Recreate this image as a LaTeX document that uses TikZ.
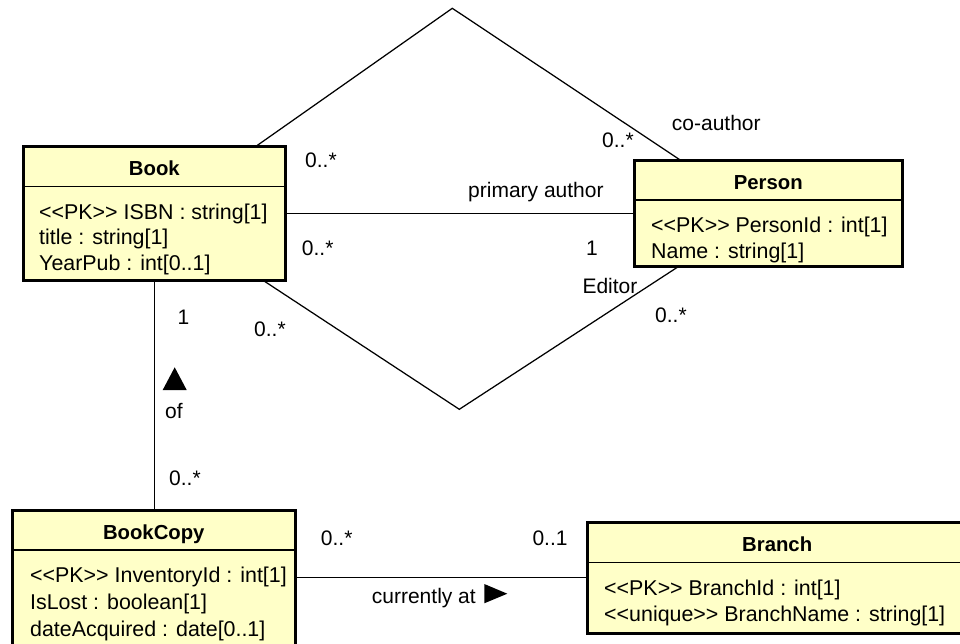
\documentclass[tikz,border=0pt]{standalone}
\usepackage{fontspec}
\setmainfont{Liberation Sans}[Ligatures=TeXOff]
\definecolor{classfill}{RGB}{255,255,200}

\begin{document}
\begin{tikzpicture}[x=1pt,y=-1pt,
    font=\fontsize{21}{25.5}\selectfont,
    class/.style={draw=black,line width=3pt,fill=classfill,inner sep=0pt,outer sep=0pt},
    sep/.style={draw=black,line width=1.2pt},
    cname/.style={font=\fontsize{20.3}{24}\selectfont\bfseries,anchor=base,inner sep=0pt},
    attr/.style={font=\fontsize{21.4}{25.5}\selectfont,anchor=base west,inner sep=0pt},
    lbl/.style={anchor=base west,inner sep=0pt},
    assoc/.style={draw=black,line width=1.25pt}]
\useasboundingbox (0,0) rectangle (960,644);

% classes
\node[class,minimum width=261.3pt,minimum height=133.5pt] (book) at (154.35,213.75) {};
\node[class,minimum width=267.5pt,minimum height=105pt] (person) at (768.25,213.5) {};
\node[class,minimum width=283.5pt,minimum height=136.5pt] (bookcopy) at (153.75,578.75) {};
\node[class,minimum width=380.4pt,minimum height=111pt] (branch) at (777.2,577.5) {};

\draw[sep] (book.west |- 0,186.7) -- (book.east |- 0,186.7);
\draw[sep] (person.west |- 0,200) -- (person.east |- 0,200);
\draw[sep] (bookcopy.west |- 0,550) -- (bookcopy.east |- 0,550);
\draw[sep] (branch.west |- 0,562.7) -- (branch.east |- 0,562.7);

\node[cname] (book-name) at (154.35,176) {Book};
\node[cname] (person-name) at (768.25,189.3) {Person};
\node[cname] (bookcopy-name) at (153.75,539.3) {BookCopy};
\node[cname] (branch-name) at (777.2,551.7) {Branch};

\foreach \txt [count=\i] in {{<<PK>> ISBN : string[1]},{title : string[1]},{YearPub : int[0..1]}}
    \node[attr] (book-attr\i) at (39,{219.2+25.5*(\i-1)}) {\txt};
\foreach \txt [count=\i] in {{<<PK>> PersonId : int[1]},{Name : string[1]}}
    \node[attr] (person-attr\i) at (651,{233+25.5*(\i-1)}) {\txt};
\foreach \txt [count=\i] in {{<<PK>> InventoryId : int[1]},{IsLost : boolean[1]},{dateAcquired : date[0..1]}}
    \node[attr] (bookcopy-attr\i) at (30,{582+27*(\i-1)}) {\txt};
\foreach \txt [count=\i] in {{<<PK>> BranchId : int[1]},{<<unique>> BranchName : string[1]}}
    \node[attr] (branch-attr\i) at (604,{595.7+25.5*(\i-1)}) {\txt};

% associations
\coordinate (coapex) at (452.3,8.3);
\coordinate (edbottom) at (459.3,409.3);
\draw[assoc] (book.north -| 255,0) -- (coapex) -- (person.north -| 681.7,0);
\draw[assoc] (book.south -| 263.3,0) -- (edbottom) -- (person.south -| 679.3,0);
\draw[assoc] (book.east) -- (book.east -| person.west);
\draw[assoc] (book.south) -- (book.south |- bookcopy.north);
\draw[assoc] (branch.west) -- (branch.west -| bookcopy.east);

% labels and multiplicities
\node[lbl] (coauthor) at (671.7,130.7) {co-author};
\node[lbl] (co-person) at (602,147.7) {0..*};
\node[lbl] (co-book) at (305,167.5) {0..*};
\node[lbl] (primary) at (468,197.3) {primary author};
\node[lbl] (pr-book) at (301.7,255) {0..*};
\node[lbl] (pr-person) at (586,255) {1};
\node[lbl] (editor) at (582.3,293.3) {Editor};
\node[lbl] (ed-person) at (655,322.3) {0..*};
\node[lbl] (ed-book) at (254,336) {0..*};
\node[lbl] (of-book) at (177.3,324.3) {1};
\node[lbl] (of) at (165,418.3) {of};
\node[lbl] (of-copy) at (169,485.7) {0..*};
\node[lbl] (at-copy) at (320.7,545.7) {0..*};
\node[lbl] (at-branch) at (532.3,545.7) {0..1};
\node[lbl] (currently) at (371.7,603.3) {currently at};

\fill (162.7,390) -- (186.7,390) -- (174.7,367.3) -- cycle;
\fill (484.3,584) -- (507.3,593.7) -- (484.3,603.3) -- cycle;
\end{tikzpicture}
\end{document}
